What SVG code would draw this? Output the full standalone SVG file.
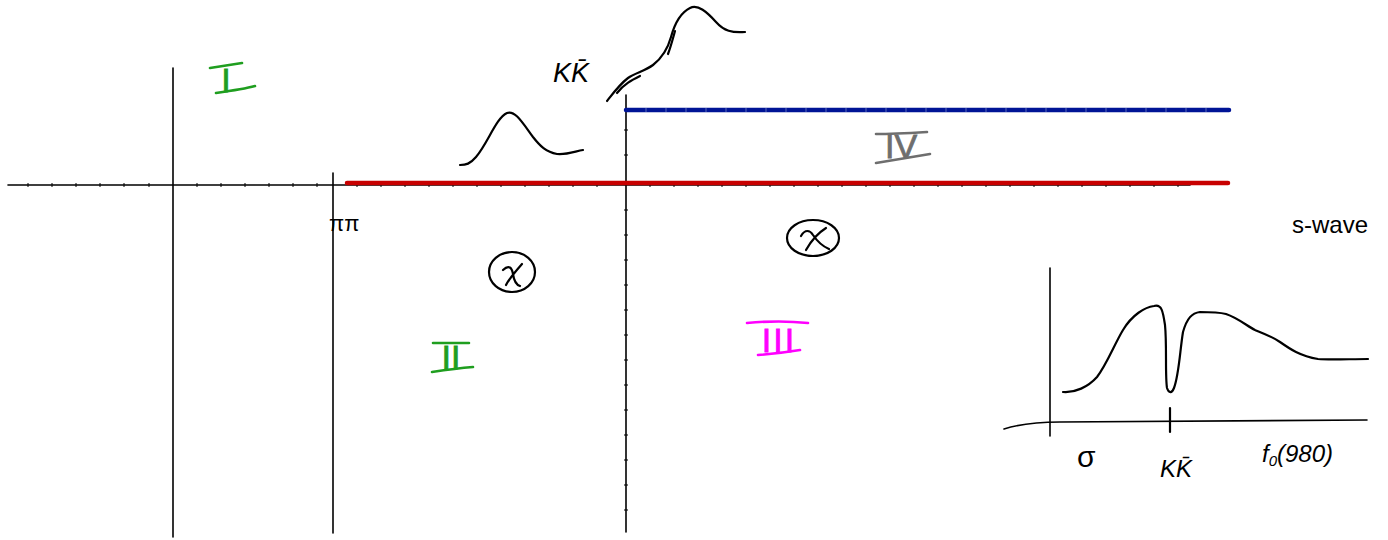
<svg xmlns="http://www.w3.org/2000/svg" width="1388" height="540" viewBox="0 0 1388 540">
<style>
.ax{stroke:#000;stroke-width:1.6;fill:none;stroke-linecap:round}
.ink{stroke:#000;stroke-width:2.2;fill:none;stroke-linecap:round;stroke-linejoin:round}
.tick{stroke:#000;stroke-width:1;}
.rn{font-family:"Liberation Sans",sans-serif;font-size:34px;stroke-width:0.8;}
.bar{stroke-width:2.6;fill:none;stroke-linecap:round}
.hw{font-family:"Liberation Sans",sans-serif;fill:#000;}
</style>
<rect width="1388" height="540" fill="#fff"/>
<g id="axes">
<path class="ax" d="M8,185 H1190"/>
<path class="ax" d="M173,68 V537"/>
<path class="ax" d="M333,173 V533"/>
<path class="ax" d="M626,95 V532"/>
<g id="ticks" class="tick">
<path d="M28,183v4M52,183v4M76,183v4M100,183v4M124,183v4M149,183v4M197,183v4M221,183v4M245,183v4M269,183v4M293,183v4M317,183v4M357,182v5M381,182v5M405,182v5M429,182v5M453,182v5M477,182v5M501,182v5M525,182v5M549,182v5M573,182v5M597,182v5M650,182v5M674,182v5M698,182v5M722,182v5M746,182v5M770,182v5M794,182v5M818,182v5M842,182v5M866,182v5M890,182v5M914,182v5M938,182v5M962,182v5M986,182v5M1010,182v5M1034,182v5M1058,182v5M1082,182v5M1106,182v5M1130,182v5M1154,182v5M1178,182v5"/>
<path d="M624,130h4M624,155h4M624,210h4M624,235h4M624,260h4M624,285h4M624,310h4M624,335h4M624,360h4M624,385h4M624,410h4M624,435h4M624,460h4M624,485h4M624,510h4"/>
</g>
</g>
<g id="connectors">
<path id="red-line" d="M347,183 H1228" stroke="#c80000" stroke-width="4.5" stroke-linecap="round" fill="none"/>
<path id="blue-line" d="M626,110 H1229" stroke="#001496" stroke-width="4.5" stroke-linecap="round" fill="none"/>
<path d="M646,108v4M666,108v4M686,108v4M706,108v4M726,108v4M746,108v4M766,108v4M786,108v4M806,108v4M826,108v4M846,108v4M866,108v4M886,108v4M906,108v4M926,108v4M946,108v4M966,108v4M986,108v4M1006,108v4M1026,108v4M1046,108v4M1066,108v4M1086,108v4M1106,108v4M1126,108v4M1146,108v4M1166,108v4M1186,108v4M1206,108v4" stroke="#5a6ab8" stroke-width="1"/>
</g>
<g id="region-I" fill="#1f9e1f" stroke="#1f9e1f">
<text class="rn" x="226" y="92" text-anchor="middle">I</text>
<path class="bar" d="M210,68 L242,63 M216,93 C230,91 244,89 255,86"/>
</g>
<g id="region-II" fill="#1f9e1f" stroke="#1f9e1f">
<text class="rn" x="451" y="369" text-anchor="middle">II</text>
<path class="bar" d="M433,343 L469,343 M432,372 C445,370 460,368 473,367"/>
</g>
<g id="region-III" fill="#ff00ff" stroke="#ff00ff">
<text class="rn" x="779" y="352" text-anchor="middle" font-size="37" letter-spacing="2">III</text>
<path class="bar" d="M747,323 C768,321 790,321 808,323 M758,355 C772,354 788,352 800,350"/>
</g>
<g id="region-IV" fill="#6e6e6e" stroke="#6e6e6e">
<text class="rn" x="901" y="158" text-anchor="middle" font-size="32">IV</text>
<path class="bar" d="M876,134 C893,134 910,133 927,132 M876,163 C894,160 912,157 930,154"/>
</g>
<g id="pipi-label"><text class="hw" x="329" y="231" font-size="22">ππ</text></g>
<g id="kkbar-label"><text class="hw" x="553" y="82" font-size="27" font-style="italic">KK̄</text></g>
<g id="bump">
<path class="ink" d="M460,165 C466,165 470,164 476,157 C488,143 496,118 507,113 C515,110 522,122 533,137 C540,146 546,152 557,154 C567,155 576,151 583,150"/>
</g>
<g id="kkbar-bump">
<path class="ink" d="M607,101 C614,92 620,84 628,78 C635,73 645,71 653,65 C662,58 668,48 671,37 C674,26 680,13 690,8 C698,4 707,12 716,22 C724,31 732,33 745,32"/>
<path class="ink" d="M668,54 C671,46 673,38 675,31"/>
<path class="ink" d="M617,93 C624,84 632,80 640,76"/>
</g>
<g id="circle-x-1">
<ellipse cx="512" cy="272" rx="23" ry="20" class="ink"/>
<path class="ink" d="M503,270 C509,264 512,268 513,274 C514,281 517,285 520,286 M522,264 C515,272 509,279 506,285"/>
</g>
<g id="circle-x-2">
<ellipse cx="813" cy="238" rx="26" ry="18" class="ink"/>
<path class="ink" d="M801,236 C805,229 810,230 813,235 C817,241 822,246 829,249 M826,228 C818,233 811,241 806,250"/>
</g>
<g id="s-wave-label"><text class="hw" x="1292" y="233" font-size="24">s-wave</text></g>
<g id="inset">
<path class="ax" d="M1050,268 V436" stroke-width="2"/>
<path class="ax" d="M1004,429 C1020,424 1040,422 1060,422 L1367,420" stroke-width="2"/>
<path class="ink" d="M1170,408 V432" stroke-width="3"/>
<path class="ink" d="M1063,392 C1075,393 1088,387 1097,377 C1107,364 1114,345 1123,330 C1132,315 1145,307 1154,306 C1162,304 1163,312 1165,325 C1167,345 1165,375 1167,388 C1169,394 1172,393 1174,388 C1179,375 1180,350 1183,332 C1187,318 1192,313 1200,312 C1210,312 1218,312 1226,314 C1238,318 1247,326 1255,330 C1265,334 1273,337 1280,342 C1290,349 1300,356 1318,359 C1330,360 1350,359 1368,359"/>
<text class="hw" x="1077" y="467" font-size="30">σ</text>
<text class="hw" x="1160" y="477" font-size="24" font-style="italic">KK̄</text>
<text class="hw" x="1262" y="462" font-size="24" font-style="italic">f<tspan font-size="15" dy="4">0</tspan><tspan dy="-4">(980)</tspan></text>
</g>
</svg>
